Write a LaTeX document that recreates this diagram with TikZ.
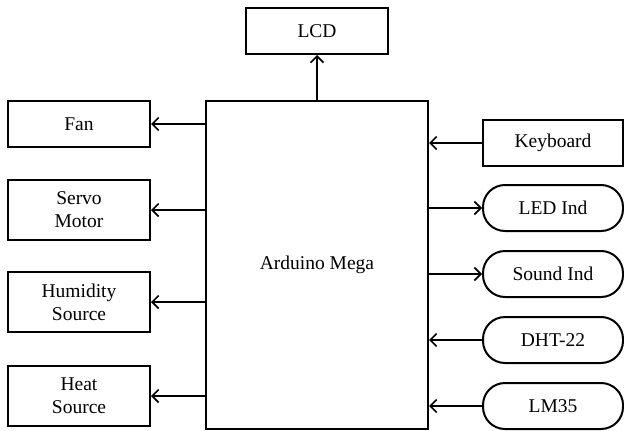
\documentclass[tikz,border=0pt]{standalone}
\usepackage{fontspec}
\setmainfont{Liberation Serif}
\usetikzlibrary{arrows.meta}
\begin{document}
\begin{tikzpicture}[x=1pt,y=-1pt,
  box/.style={draw,line width=2pt,rectangle,inner sep=0pt,align=center,
    font=\fontsize{19.5}{23}\selectfont},
  pill/.style={box,rounded corners=22pt},
  conn/.style={line width=2pt,-{Straight Barb[length=6.5pt,width=13pt,line width=1.6pt]}}]
\useasboundingbox (0,0) rectangle (624,431);
\node[box,minimum width=222pt,minimum height=328pt] (ard) at (317,265) {Arduino Mega};
\node[box,minimum width=142pt,minimum height=46pt] (lcd) at (317,31) {LCD};
\node[box,minimum width=142pt,minimum height=46pt] (fan) at (79,124) {Fan};
\node[box,minimum width=142pt,minimum height=60pt] (servo) at (79,210) {Servo\\Motor};
\node[box,minimum width=142pt,minimum height=60pt] (hum) at (79,302) {Humidity\\Source};
\node[box,minimum width=142pt,minimum height=60pt] (heat) at (79,396) {Heat\\Source};
\node[box,minimum width=140pt,minimum height=46pt] (kb) at (553,143) {Keyboard};
\node[pill,minimum width=140pt,minimum height=46pt] (led) at (553,208) {LED Ind};
\node[pill,minimum width=140pt,minimum height=46pt] (snd) at (553,274) {Sound Ind};
\node[pill,minimum width=140pt,minimum height=46pt] (dht) at (553,340) {DHT-22};
\node[pill,minimum width=140pt,minimum height=46pt] (lm) at (553,406) {LM35};
\draw[conn] (ard.north) -- (lcd.south);
\draw[conn] (fan.east -| ard.west) -- (fan.east);
\draw[conn] (servo.east -| ard.west) -- (servo.east);
\draw[conn] (hum.east -| ard.west) -- (hum.east);
\draw[conn] (heat.east -| ard.west) -- (heat.east);
\draw[conn] (kb.west) -- (kb.west -| ard.east);
\draw[conn] (led.west -| ard.east) -- (led.west);
\draw[conn] (snd.west -| ard.east) -- (snd.west);
\draw[conn] (dht.west) -- (dht.west -| ard.east);
\draw[conn] (lm.west) -- (lm.west -| ard.east);
\end{tikzpicture}
\end{document}
